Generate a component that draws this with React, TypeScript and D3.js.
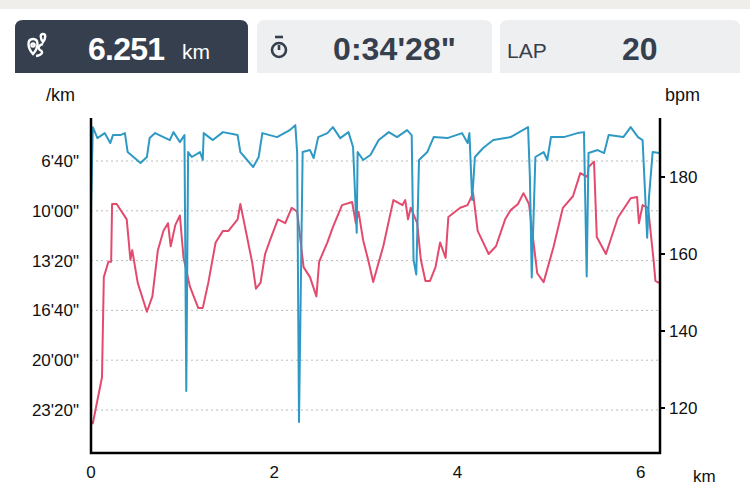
import React from 'react';
import * as d3 from 'd3';

// distance (km) / pace (seconds per km)
const paceKm = [0, 0.02, 0.07, 0.15, 0.21, 0.24, 0.32, 0.37, 0.4, 0.54, 0.61, 0.64, 0.7, 0.86, 0.9, 0.97, 1.02, 1.04, 1.06, 1.1, 1.19, 1.22, 1.23, 1.33, 1.44, 1.6, 1.63, 1.77, 1.83, 1.87, 2.03, 2.17, 2.23, 2.25, 2.27, 2.31, 2.39, 2.43, 2.48, 2.58, 2.64, 2.72, 2.81, 2.86, 2.9, 2.91, 2.97, 3.05, 3.14, 3.25, 3.34, 3.45, 3.5, 3.52, 3.55, 3.58, 3.67, 3.74, 3.89, 4.05, 4.11, 4.13, 4.16, 4.19, 4.28, 4.39, 4.58, 4.77, 4.79, 4.81, 4.85, 4.94, 4.98, 5.02, 5.16, 5.31, 5.38, 5.41, 5.43, 5.53, 5.6, 5.65, 5.81, 5.89, 5.97, 6.02, 6.07, 6.09, 6.13, 6.2];
const paceSec = [596, 264, 308, 288, 328, 296, 296, 288, 364, 408, 384, 308, 288, 316, 284, 324, 296, 1324, 364, 384, 364, 396, 288, 316, 284, 296, 364, 424, 384, 288, 304, 276, 256, 368, 1448, 364, 356, 388, 304, 288, 264, 308, 284, 344, 688, 364, 396, 376, 316, 284, 304, 276, 296, 796, 856, 396, 364, 304, 308, 288, 328, 288, 556, 384, 348, 316, 304, 264, 464, 868, 384, 364, 396, 304, 304, 288, 284, 864, 368, 356, 368, 296, 304, 264, 304, 316, 708, 544, 364, 368];

// distance (km) / heart rate (bpm)
const hrKm = [0, 0.02, 0.07, 0.12, 0.14, 0.19, 0.22, 0.23, 0.28, 0.39, 0.43, 0.45, 0.51, 0.57, 0.61, 0.67, 0.73, 0.79, 0.84, 0.87, 0.92, 0.97, 1.01, 1.08, 1.17, 1.22, 1.28, 1.36, 1.44, 1.5, 1.6, 1.63, 1.66, 1.76, 1.8, 1.85, 1.9, 1.96, 2.04, 2.12, 2.19, 2.25, 2.32, 2.39, 2.46, 2.49, 2.58, 2.64, 2.74, 2.85, 2.89, 2.92, 2.97, 3.03, 3.08, 3.13, 3.19, 3.3, 3.4, 3.43, 3.46, 3.49, 3.56, 3.6, 3.65, 3.7, 3.76, 3.81, 3.87, 3.9, 4.03, 4.11, 4.17, 4.22, 4.34, 4.42, 4.52, 4.58, 4.66, 4.72, 4.78, 4.87, 4.94, 5.05, 5.15, 5.26, 5.34, 5.42, 5.43, 5.49, 5.52, 5.62, 5.75, 5.89, 5.96, 5.98, 6.02, 6.08, 6.14, 6.16, 6.2];
const hrBpm = [116.4, 116, 122, 128, 154, 158, 158, 173, 173, 169, 158.5, 161, 152.5, 148, 145, 149, 161, 166, 168, 162, 167.5, 170, 159, 151.5, 146, 146, 152.5, 163, 166, 166, 169, 173, 169.5, 157.7, 151, 152.5, 160, 164, 169, 168, 172, 171, 156.6, 154, 149, 158, 163, 167, 172.7, 173.5, 168, 171, 163.6, 158, 152.7, 157, 162, 174, 172.7, 174, 169, 172, 168, 158.5, 153, 153, 156.6, 163, 159, 169.6, 172, 172.7, 175.8, 166, 160, 162, 169, 171.4, 173, 175.8, 173, 155, 152.7, 162, 172, 175, 181, 180, 182.6, 184, 164.4, 160, 169.4, 174.5, 174.8, 168, 172.7, 172, 158.4, 153, 152.5];

const paceTicks = [400, 600, 800, 1000, 1200, 1400];
const hrTicks = [120, 140, 160, 180];
const kmTicks = [0, 2, 4, 6];

const fmtPace = (s: number) => `${Math.floor(s / 60)}'${String(s % 60).padStart(2, '0')}"`;

const W = 750, H = 487;
const L = 91, R = 660, T = 118, B = 453;
const font = '"Liberation Sans", Arial, sans-serif';

export default function App() {
  const x = d3.scaleLinear().domain([0, 6.21]).range([L, R]);
  const yPace = d3.scaleLinear().domain([400, 1400]).range([161, 410]);
  const yHr = d3.scaleLinear().domain([120, 180]).range([408, 177]);

  const paceLine = d3.line<number>().x((_, i) => x(paceKm[i])).y((d) => yPace(d));
  const hrLine = d3.line<number>().x((_, i) => x(hrKm[i])).y((d) => yHr(d));

  return (
    <svg width={W} height={H} style={{ position: 'absolute', left: 0, top: 0, fontFamily: font }}>
      <rect width={W} height={H} fill="#fff" />
      <rect width={W} height={9} fill="#efeeea" />

      {/* header cards */}
      <path d="M15,73 V28 Q15,20 23,20 H240 Q248,20 248,28 V73 Z" fill="#363f4d" />
      <path d="M257,73 V28 Q257,20 265,20 H484 Q492,20 492,28 V73 Z" fill="#eeeff1" />
      <path d="M500,73 V28 Q500,20 508,20 H732 Q740,20 740,28 V73 Z" fill="#eeeff1" />
      <g stroke="#fff" strokeWidth={2.4} fill="none">
        <path d="M33,54 c-6,-7 -6,-15 0,-15 c6,0 6,8 0,15 z" />
        <circle cx={33} cy={45} r={1.6} />
        <path d="M43,42 c-3,-4 -3,-8 0,-8 c3,0 3,4 0,8 z" />
        <path d="M36,56 c6,-1 8,-4 4,-6 c-3,-2 -1,-5 3,-6" />
      </g>
      <text x={88} y={60} fill="#fff" fontSize={32} fontWeight="bold" textLength={77}>6.251</text>
      <text x={182} y={59} fill="#fff" fontSize={21}>km</text>
      <g stroke="#363f4d" strokeWidth={2.6} fill="none">
        <circle cx={279} cy={50} r={7} />
        <line x1={279} y1={50} x2={279} y2={45} />
        <line x1={275} y1={37} x2={283} y2={37} />
      </g>
      <text x={333} y={60} fill="#363f4d" fontSize={32} fontWeight="bold" textLength={123}>0:34'28"</text>
      <text x={507} y={58} fill="#363f4d" fontSize={21}>LAP</text>
      <text x={622} y={60} fill="#363f4d" fontSize={32} fontWeight="bold">20</text>

      {/* axis titles */}
      <text x={46} y={101} fontSize={18} fill="#111">/km</text>
      <text x={665} y={101} fontSize={18} fill="#111">bpm</text>

      {/* grid */}
      {paceTicks.map((t) => (
        <g key={t}>
          <line x1={L} x2={R} y1={yPace(t)} y2={yPace(t)} stroke="#bbb" strokeDasharray="2,3" />
          <text x={79} y={yPace(t) + 6} textAnchor="end" fontSize={17} fill="#111">{fmtPace(t)}</text>
        </g>
      ))}
      {hrTicks.map((t) => (
        <g key={t}>
          <line x1={R} x2={R + 5} y1={yHr(t)} y2={yHr(t)} stroke="#000" strokeWidth={2} />
          <text x={669} y={yHr(t) + 6} fontSize={17} fill="#111">{t}</text>
        </g>
      ))}
      {kmTicks.map((t) => (
        <text key={t} x={x(t)} y={478} textAnchor="middle" fontSize={17} fill="#111">{t}</text>
      ))}
      <text x={693} y={482} fontSize={17} fill="#111">km</text>

      <path d={hrLine(hrBpm) || ''} fill="none" stroke="#e34b6e" strokeWidth={2} strokeLinejoin="round" />
      <path d={paceLine(paceSec) || ''} fill="none" stroke="#2e9ac4" strokeWidth={2} strokeLinejoin="round" />

      <path d={`M${L},${T} V${B} H${R} V${T}`} fill="none" stroke="#000" strokeWidth={2.5} />
    </svg>
  );
}
